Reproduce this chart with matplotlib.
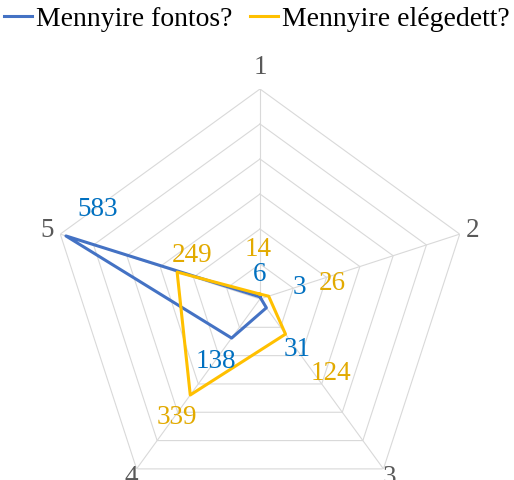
import numpy as np
import matplotlib
matplotlib.use("Agg")
import matplotlib.pyplot as plt
from matplotlib.lines import Line2D

categories = ["1", "2", "3", "4", "5"]
fontos = [6, 3, 31, 138, 583]
elegedett = [14, 26, 124, 339, 249]
series_names = ["Mennyire fontos?", "Mennyire elégedett?"]
rmax = 600
ring_values = [100, 200, 300, 400, 500, 600]

line_colors = ["#4472C4", "#FFC000"]
label_colors = ["#0070C0", "#E2AA00"]
# label offsets in pixels (dx right, dy up)
off_fontos = [(0, 23), (38, 12), (31, -41), (-16, -22), (32, 27)]
off_eleg = [(-2, 46), (64, 14), (45, -38), (-13, -22), (15, 18)]

plt.rcParams["font.family"] = ["Liberation Serif", "DejaVu Serif"]

W, H = 514, 481
fig = plt.figure(figsize=(W / 100, H / 100), dpi=100)
cx, cy, R = 260, 300, 210
ax = fig.add_axes([(cx - R) / W, (H - cy - R) / H, 2 * R / W, 2 * R / H], projection="polar")
ax.set_theta_zero_location("N")
ax.set_theta_direction(-1)
ax.set_ylim(0, rmax)
ax.axis("off")

n = len(categories)
angles = np.arange(n) * 2 * np.pi / n
closed = np.append(angles, angles[0])

grid_c = "#D9D9D9"
for rv in ring_values:
    ax.plot(closed, [rv] * (n + 1), color=grid_c, lw=0.8, zorder=1)
for a in angles:
    ax.plot([a, a], [0, rmax], color=grid_c, lw=0.8, zorder=1)

for vals, lc, tc, offs in [(fontos, line_colors[0], label_colors[0], off_fontos),
                           (elegedett, line_colors[1], label_colors[1], off_eleg)]:
    ax.plot(closed, vals + [vals[0]], color=lc, lw=2.2, zorder=3)
    for a, v, (dx, dy) in zip(angles, vals, offs):
        ax.annotate(str(v), (a, v), xytext=(dx, dy), textcoords="offset pixels",
                    ha="center", va="center", color=tc, fontsize=19.5, zorder=4)

# category labels
cat_r = [663, 640, 628, 628, 640]
for a, c, r in zip(angles, categories, cat_r):
    ax.text(a, r, c, ha="center", va="center", color="#595959", fontsize=19.5,
            clip_on=False)

handles = [Line2D([], [], color=line_colors[0], lw=2.2),
           Line2D([], [], color=line_colors[1], lw=2.2)]
fig.legend(handles, series_names, loc="upper center", bbox_to_anchor=(0.5, 1.0),
           ncol=2, frameon=False, fontsize=20, handlelength=1.0, handletextpad=0.15,
           columnspacing=0.65, borderaxespad=0.15, borderpad=0.1)

fig.savefig("out.png", dpi=100)
